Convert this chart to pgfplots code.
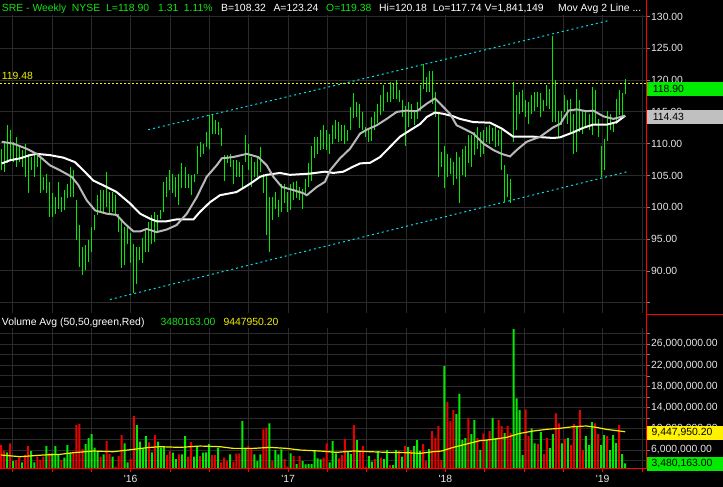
\documentclass[border=0pt]{standalone}
\usepackage{pgfplots}
\usepackage{pgfplotstable}
\pgfplotsset{compat=1.18}
\usepackage{fontspec}
\setmainfont{Liberation Sans}

\definecolor{gridc}{RGB}{42,42,42}
\definecolor{barg}{RGB}{0,235,0}
\definecolor{barr}{RGB}{235,0,0}
\definecolor{magray}{RGB}{185,185,185}
\definecolor{chcyan}{RGB}{0,225,235}
\definecolor{hyel}{RGB}{240,240,0}
\definecolor{lblc}{RGB}{230,230,230}
\definecolor{hgreen}{RGB}{20,225,20}
\definecolor{boxgray}{RGB}{192,192,192}

\newcommand{\cf}{\fontsize{10.4bp}{12bp}\selectfont}

% weekly bars, k = week index (k=43 is the first week of 2016)
\pgfplotstableread{
k H L
0 109.2 105.8
1 110.5 105.6
2 112.9 106.9
3 112.2 107.4
4 110.3 107.1
5 111.1 106.3
6 109.7 107.1
7 109.0 106.3
8 110.0 104.8
9 108.4 102.2
10 107.9 105.8
11 108.7 104.8
12 108.4 106.3
13 107.9 102.2
14 104.8 102.7
15 105.3 102.2
16 104.0 98.5
17 102.2 98.5
18 101.6 99.0
19 104.0 99.8
20 101.6 99.3
21 102.7 99.5
22 103.7 101.4
23 106.3 101.6
24 105.8 101.6
25 101.1 94.8
26 97.2 90.6
27 93.8 89.3
28 94.0 90.1
29 94.8 91.4
30 96.9 93.0
31 98.8 96.4
32 101.9 98.8
33 102.7 99.3
34 102.7 99.0
35 105.6 100.1
36 102.4 99.0
37 102.4 99.3
38 101.9 98.8
39 99.0 96.1
40 98.0 90.4
41 96.9 90.9
42 96.9 94.3
43 95.9 91.2
44 94.3 86.5
45 93.8 88.0
46 93.8 91.7
47 95.1 91.2
48 96.4 93.0
49 97.7 93.0
50 98.8 94.3
51 99.3 94.6
52 98.8 95.9
53 99.5 98.2
54 104.0 99.3
55 104.8 101.6
56 105.8 102.7
57 105.3 102.2
58 104.8 101.6
59 105.3 100.3
60 106.9 103.0
61 106.3 103.0
62 105.3 103.0
63 105.0 101.9
64 105.3 104.0
65 109.7 105.3
66 110.3 107.9
67 110.0 108.4
68 111.8 109.5
69 114.5 109.2
70 114.5 111.6
71 113.7 111.6
72 113.4 111.3
73 112.4 109.7
74 108.2 104.2
75 108.2 106.9
76 108.4 106.3
77 107.4 103.7
78 107.4 104.8
79 107.1 104.8
80 106.6 103.0
81 111.3 107.1
82 110.0 105.8
83 107.9 103.2
84 107.1 104.8
85 107.7 104.8
86 109.5 105.6
87 105.3 102.2
88 105.3 95.6
89 101.6 93.0
90 101.6 98.0
91 102.4 99.8
92 101.1 98.5
93 103.7 99.3
94 103.7 100.6
95 102.4 99.3
96 103.7 99.5
97 104.0 101.1
98 104.2 101.4
99 103.2 101.1
100 102.9 99.8
101 104.5 102.2
102 106.9 103.2
103 109.7 104.2
104 111.1 107.7
105 111.1 108.4
106 112.1 109.0
107 112.9 109.2
108 112.1 109.0
109 111.6 108.4
110 112.9 110.0
111 113.7 110.8
112 113.4 110.3
113 112.9 110.5
114 112.9 110.0
115 112.1 110.5
116 115.8 112.1
117 117.9 114.0
118 116.5 114.2
119 116.3 112.4
120 115.0 112.1
121 112.6 111.1
122 112.1 110.3
123 114.2 110.5
124 115.0 112.1
125 116.3 113.2
126 117.6 114.5
127 119.2 115.2
128 118.1 116.5
129 119.7 116.5
130 119.4 117.1
131 120.0 117.1
132 118.4 116.5
133 116.8 114.2
134 116.0 109.7
135 116.5 112.6
136 116.3 113.9
137 115.2 112.9
138 116.5 113.9
139 119.2 115.2
140 122.6 118.6
141 120.5 118.1
142 121.5 118.1
143 121.5 116.3
144 118.1 114.2
145 114.7 104.8
146 108.7 106.3
147 109.7 103.0
148 108.4 104.8
149 107.7 105.3
150 107.1 103.5
151 108.7 104.5
152 107.9 100.6
153 109.2 105.0
154 109.7 104.8
155 111.3 106.9
156 111.3 106.3
157 111.8 108.2
158 112.6 109.2
159 111.8 107.9
160 112.1 108.4
161 112.6 110.3
162 112.9 110.0
163 112.4 110.5
164 112.6 109.5
165 112.1 109.7
166 112.1 105.8
167 106.6 100.8
168 105.3 101.6
169 104.5 100.6
170 119.7 110.3
171 117.6 112.1
172 118.1 114.7
173 118.4 115.0
174 116.8 114.2
175 116.5 113.1
176 117.6 114.7
177 118.1 115.2
178 118.1 115.8
179 117.9 114.2
180 116.8 115.2
181 119.2 116.0
182 118.6 115.5
183 127.0 113.4
184 120.0 113.4
185 115.2 111.1
186 115.2 112.9
187 117.6 115.0
188 116.8 113.1
189 117.1 111.8
190 114.7 108.4
191 118.6 108.7
192 116.8 111.8
193 115.2 111.6
194 115.0 112.6
195 114.7 112.1
196 118.9 111.3
197 118.4 113.1
198 113.9 111.1
199 109.7 104.8
200 110.8 105.8
201 115.2 110.5
202 114.7 112.1
203 113.1 111.8
204 117.1 113.1
205 118.4 114.5
206 117.9 113.9
207 120.18 117.74
}\price

% volume in millions, up weeks
\pgfplotstableread{
k v
2 5.56
4 3.92
7 3.67
10 5.81
11 3.67
15 6.75
17 5.37
18 6.75
19 5.18
21 4.55
22 6.94
23 5.56
28 7.13
29 8.26
30 9.02
31 6.44
32 5.81
34 5.18
37 4.74
41 7.26
42 3.67
45 10.72
46 7.57
47 6.31
48 8.64
50 5.56
52 7.57
53 6.44
54 6.75
57 5.50
58 4.30
60 5.18
61 8.64
64 4.74
65 6.75
67 5.50
68 5.56
69 7.13
72 6.44
76 5.18
80 11.47
81 6.44
84 5.18
85 3.92
86 5.18
89 11.03
91 6.00
92 5.18
93 6.12
96 5.37
98 3.36
100 3.92
101 3.29
102 3.36
103 3.36
104 6.00
105 4.42
106 4.24
109 3.67
110 7.70
111 5.37
115 5.81
116 5.24
118 7.89
122 4.87
123 3.80
125 5.81
127 4.30
128 6.00
130 3.17
131 6.00
133 4.74
135 6.57
137 6.75
138 7.89
139 5.81
142 6.19
147 21.85
151 12.79
152 16.57
153 7.89
154 8.26
156 9.02
157 11.66
159 6.00
161 7.89
163 12.04
164 8.26
167 9.21
170 28.83
171 15.75
172 13.55
173 5.06
176 10.09
177 7.26
179 9.40
182 6.38
183 9.02
186 7.26
188 8.26
191 10.53
194 8.64
195 6.94
196 11.28
199 6.94
200 8.83
202 6.00
203 8.83
204 7.32
206 5.24
207 3.48
}\volup

% volume in millions, down weeks
\pgfplotstableread{
k v
0 6.94
1 5.81
3 7.26
5 4.11
6 4.55
8 5.06
9 6.75
12 4.74
13 4.11
14 4.74
16 5.37
20 4.11
24 5.68
25 10.72
26 10.91
27 6.19
33 4.74
35 7.70
36 5.24
38 2.85
39 4.87
40 8.83
43 4.30
44 12.41
49 7.45
51 8.83
55 5.06
56 5.81
59 5.18
62 4.74
63 7.51
66 4.87
70 5.06
71 5.06
73 3.67
74 4.55
75 3.92
77 3.80
78 5.31
79 5.37
82 6.75
83 6.31
87 9.90
88 10.21
90 3.92
94 4.30
95 2.85
97 4.87
99 4.87
107 4.55
108 7.26
112 4.42
113 5.06
114 8.08
117 10.72
119 5.81
120 6.75
121 2.85
124 4.30
126 4.55
129 3.17
132 5.81
134 6.75
136 6.00
140 7.13
141 3.92
143 9.58
144 8.26
145 10.53
146 4.11
148 15.06
149 11.47
150 13.55
155 12.04
158 8.26
160 9.14
162 9.58
165 11.66
166 10.53
168 10.53
169 9.21
174 13.67
175 8.64
178 7.13
180 5.24
181 8.26
184 12.92
185 11.03
187 8.08
189 6.94
190 10.91
192 13.55
193 6.00
197 11.03
198 9.02
201 8.64
205 10.72
}\voldn

\pgfplotsset{
  chart/.style={
    scale only axis, width=646.5bp,
    xmin=-0.365, xmax=214.07,
    axis line style={draw=none},
    grid=major, major grid style={draw=gridc, line width=0.8bp},
    xtick={3.865,16.91,29.955,43,56.045,69.09,82.135,95.18,108.225,121.27,134.315,147.36,160.405,173.45,186.495,199.54,212.585},
    xtick pos=left, ytick pos=right, yticklabel pos=right,
    tick align=outside, major tick length=3bp,
    ytick style={draw=gray, line width=0.6bp},
    yticklabel style={font=\cf, text=lblc, anchor=west, inner sep=1bp, xshift=0.5bp},
  }
}

\begin{document}
\begin{tikzpicture}
\fill[black] (0,0) rectangle (723bp,487bp);

% price panel
\begin{axis}[chart, at={(0bp,174bp)}, anchor=south west, height=298bp,
  ymin=83.38, ymax=130.236,
  xticklabels={}, xtick style={draw=none},
  ytick={85,90,95,100,105,110,115,120,125,130},
  yticklabels={,90.00,95.00,100.00,105.00,110.00,115.00,120.00,125.00,130.00},
]
\addplot[draw=none, mark=none, forget plot,
  error bars/.cd, y dir=plus, y explicit, error mark=none,
  error bar style={draw=barg, line width=1bp, solid}]
  table[x=k, y=L, y error expr=\thisrow{H}-\thisrow{L}] {\price};

% slow average
\addplot[white, line width=2bp] coordinates {
(0.2,106.9)(3.0,107.4)(6.3,107.7)(9.6,108.2)(11.8,108.4)(16.2,108.2)(20.7,107.8)
(24.5,107.1)(27.3,105.8)(30.6,104.2)(35.0,103.2)(38.3,102.4)(42.8,100.6)(46.1,99.0)
(49.4,98.2)(51.6,97.8)(54.9,97.8)(58.2,98.1)(63.8,98.1)(66.0,99.3)(69.3,100.8)
(72.6,101.9)(78.1,102.4)(82.6,103.7)(85.9,104.8)(88.1,105.1)(92.5,105.4)(95.8,105.1)
(102.5,105.3)(107.4,105.6)(110.2,105.4)(113.5,105.6)(116.8,106.4)(119.1,106.9)
(122.4,107.0)(125.7,107.9)(129.0,109.5)(132.3,111.1)(135.6,112.1)(139.0,113.1)
(141.2,114.2)(143.9,114.9)(146.7,114.7)(150.0,114.3)(152.2,113.9)(156.6,113.4)
(162.2,113.3)(166.0,112.4)(169.9,111.1)(176.6,111.1)(183.2,110.9)(185.4,111.0)
(189.8,111.8)(193.1,112.5)(196.4,113.0)(200.9,113.0)(204.2,113.4)(207.0,114.4)};

% fast average
\addplot[magray, line width=2bp] coordinates {
(0.2,110.3)(4.1,110.0)(8.5,109.2)(11.8,108.4)(16.2,106.6)(19.6,105.8)(23.4,104.8)
(25.6,103.5)(28.4,101.1)(31.2,99.5)(35.0,99.0)(38.3,98.8)(41.1,97.4)(43.9,96.2)
(46.1,96.2)(48.3,96.6)(51.6,96.1)(54.9,96.5)(58.2,97.2)(61.6,99.0)(64.9,101.6)
(68.2,104.8)(71.5,106.6)(73.2,107.7)(77.0,107.9)(81.5,108.4)(85.3,107.9)(88.1,106.6)
(90.3,104.8)(93.1,103.2)(97.0,102.7)(100.3,102.2)(101.4,101.9)(104.7,103.2)
(107.4,104.0)(109.1,105.8)(112.4,107.7)(115.7,109.2)(119.1,111.6)(121.3,112.2)
(124.6,112.9)(127.9,113.9)(131.2,115.0)(134.5,115.2)(137.9,115.1)(141.2,116.3)
(143.9,117.1)(145.6,116.3)(148.9,114.7)(151.1,112.9)(153.3,112.4)(156.6,111.6)
(160.0,110.0)(163.3,109.0)(166.0,108.4)(168.8,108.0)(171.0,109.0)(174.3,110.3)
(178.8,111.1)(183.2,112.6)(185.4,113.1)(188.2,115.2)(190.9,115.4)(194.2,115.1)
(196.4,115.2)(199.8,114.3)(203.1,113.9)(207.0,114.4)};

% trend channel
\addplot[chcyan, line width=1bp, dash pattern=on 2bp off 3bp] coordinates {(48.8,112.2)(201.9,129.4)};
\addplot[chcyan, line width=1bp, dash pattern=on 2bp off 3bp] coordinates {(36.1,85.5)(207.7,105.6)};

% last-level line
\addplot[hyel, line width=1bp, dash pattern=on 2bp off 2bp] coordinates {(-0.365,119.48)(214.07,119.48)};
\end{axis}

% volume panel
\begin{axis}[chart, at={(0bp,18bp)}, anchor=south west, height=141bp,
  ymin=2.42, ymax=29.02,
  xtick style={draw=red, line width=0.8bp},
  xticklabels={,,,\textquotesingle16,,,,\textquotesingle17,,,,\textquotesingle18,,,,\textquotesingle19,},
  xticklabel style={font=\cf, text=lblc},
  ytick={4,6,8,10,12,14,16,18,20,22,24,26,28},
  yticklabels={,{6,000,000.00},,{10,000,000.00},,{14,000,000.00},,{18,000,000.00},,{22,000,000.00},,{26,000,000.00},},
]
\addplot[ybar, bar width=2bp, bar shift=0pt, fill=barg, draw=none] table[x=k, y=v] {\volup};
\addplot[ybar, bar width=2bp, bar shift=0pt, fill=barr, draw=none] table[x=k, y=v] {\voldn};
\addplot[hyel, line width=1.2bp] coordinates {
(0,5.06)(6.3,4.74)(10.7,4.93)(14.0,5.06)(19.5,5.18)(24.0,5.50)(30.6,5.81)(37.2,5.68)
(43.8,6.12)(48.3,6.44)(52.7,6.63)(59.3,6.50)(66.0,6.75)(72.6,6.63)(77.0,6.31)(83.6,6.31)
(89.2,6.50)(94.7,6.31)(99.1,6.00)(105.8,5.81)(111.3,5.56)(116.8,5.81)(127.9,5.56)
(134.5,5.50)(138.9,5.37)(143.4,5.68)(146.1,5.81)(150.0,6.50)(154.4,7.13)(158.8,7.76)
(163.2,8.01)(167.7,8.39)(172.1,9.14)(176.5,9.58)(180.9,9.90)(185.3,10.09)(189.7,10.40)
(194.1,10.53)(197.4,10.28)(200.8,9.90)(207.0,9.45)};
\end{axis}

% frame lines
\draw[red, line width=1bp] (646.5bp,18bp) -- (646.5bp,487bp);
\draw[red, line width=1bp] (0bp,18bp) -- (646.5bp,18bp);
\draw[red, line width=1bp] (646.5bp,172.3bp) -- (723bp,172.3bp);

% value boxes on the scales
\fill[barg] (647bp,391.3bp) rectangle (723bp,405bp);
\node[anchor=west, inner sep=0pt, font=\cf, text=black] at (652.7bp,398.2bp) {118.90};
\fill[boxgray] (647bp,363bp) rectangle (723bp,377bp);
\node[anchor=west, inner sep=0pt, font=\cf, text=black] at (652.7bp,370bp) {114.43};
\fill[yellow] (647bp,47bp) rectangle (723bp,61bp);
\node[anchor=west, inner sep=0pt, font=\cf, text=black] at (651.5bp,54bp) {9,447,950.20};
\fill[barg] (647bp,16.3bp) rectangle (723bp,30.3bp);
\node[anchor=west, inner sep=0pt, font=\cf, text=black] at (651.5bp,23.3bp) {3,480,163.00};

% header line
\begin{scope}[every node/.style={anchor=base west, inner sep=0pt, font=\cf}]
\node[text=hgreen] at (1.7bp,475.3bp) {SRE - Weekly};
\node[text=hgreen] at (71.7bp,475.3bp) {NYSE};
\node[text=hgreen] at (106bp,475.3bp) {L=118.90};
\node[text=hgreen] at (158bp,475.3bp) {1.31};
\node[text=hgreen] at (183.7bp,475.3bp) {1.11\%};
\node[text=white] at (221bp,475.3bp) {B=108.32};
\node[text=white] at (273.3bp,475.3bp) {A=123.24};
\node[text=hgreen] at (326bp,475.3bp) {O=119.38};
\node[text=white] at (379bp,475.3bp) {Hi=120.18};
\node[text=white] at (432.7bp,475.3bp) {Lo=117.74};
\node[text=white] at (484.3bp,475.3bp) {V=1,841,149};
\node[text=white] at (558bp,475.3bp) {Mov Avg 2 Line ...};
\node[text=hyel] at (1.7bp,407bp) {119.48};
\node[text=white] at (1.7bp,161bp) {Volume Avg (50,50,green,Red)};
\node[text=hgreen] at (160.3bp,161bp) {3480163.00};
\node[text=hyel] at (223.3bp,161bp) {9447950.20};
\end{scope}

\pgfresetboundingbox
\useasboundingbox (0,0) rectangle (723bp,487bp);
\end{tikzpicture}
\end{document}
